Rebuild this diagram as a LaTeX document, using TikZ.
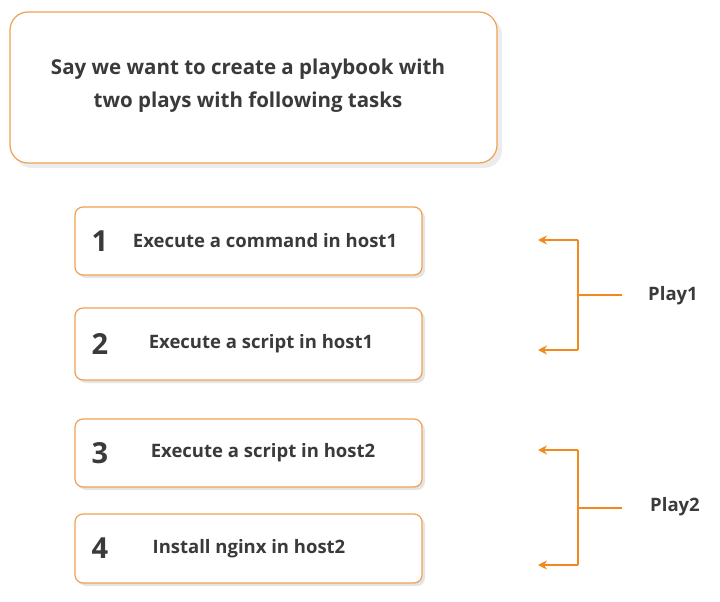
\documentclass[tikz,border=0pt]{standalone}
\usepackage{fontspec}
\setmainfont{Open Sans}
\usetikzlibrary{arrows.meta}
\definecolor{org}{HTML}{F0A050}
\definecolor{arr}{HTML}{F08A1E}
\definecolor{txt}{HTML}{3A3A3A}
\begin{document}
\begin{tikzpicture}[x=1pt,y=-1pt,
  box/.style={draw=org,line width=1.2pt,rounded corners=8pt,fill=white,inner sep=0pt},
  lab/.style={font=\bfseries\fontsize{18.5}{22}\selectfont,text=txt},
  num/.style={font=\bfseries\fontsize{29}{32}\selectfont,text=txt},
  br/.style={draw=arr,line width=2pt},
  ar/.style={br,-{Stealth[length=9pt,width=9pt]}}]
\useasboundingbox (0,0) rectangle (720,602);
\fill[gray!15,rounded corners=18pt] (14,17) rectangle (502,168);
\draw[box,rounded corners=18pt] (10,12) rectangle (497,163);
\node[font=\bfseries\fontsize{20.5}{33}\selectfont,text=txt,align=center] (t) at (248,86) {Say we want to create a playbook with\\two plays with following tasks};
\foreach \n/\ya/\yb/\tx/\lx in {1/207/275/Execute a command in host1/265, 2/308/380/Execute a script in host1/261, 3/419/487/Execute a script in host2/263, 4/514/583/Install nginx in host2/249}{
  \fill[gray!20,rounded corners=8pt] (78,\ya+3) rectangle (425,\yb+3);
  \draw[box] (75,\ya) rectangle (422,\yb);
  \node[num] (n\n) at (100,{(\ya+\yb)/2}) {\n};
  \node[lab] (b\n) at (\lx,{(\ya+\yb)/2}) {\tx};
}
\coordinate (a1) at (538,240); \coordinate (a2) at (538,350);
\coordinate (a3) at (538,450); \coordinate (a4) at (538,565);
\coordinate (c1) at (578,240); \coordinate (c2) at (578,350);
\coordinate (c3) at (578,450); \coordinate (c4) at (578,565);
\coordinate (m1) at (578,295); \coordinate (m2) at (578,508);
\coordinate (e1) at (622,295); \coordinate (e2) at (622,508);
\draw[br] (c1) -- (c2); \draw[br] (c3) -- (c4);
\draw[ar] (c1) -- (a1); \draw[ar] (c2) -- (a2);
\draw[ar] (c3) -- (a3); \draw[ar] (c4) -- (a4);
\draw[br] (m1) -- (e1); \draw[br] (m2) -- (e2);
\node[lab] (p1) at (673,296) {Play1};
\node[lab] (p2) at (675,507) {Play2};
\end{tikzpicture}
\end{document}
